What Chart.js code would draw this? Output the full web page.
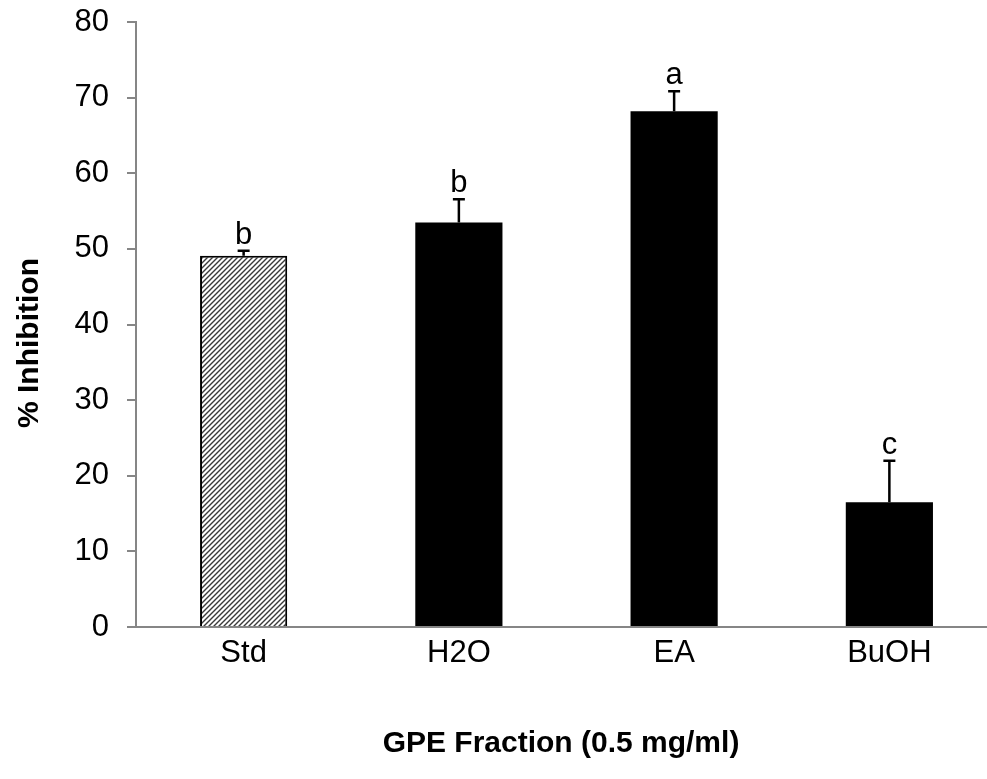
<!DOCTYPE html>
<html>
<head>
<meta charset="utf-8">
<script src="https://cdn.jsdelivr.net/npm/chart.js@4/dist/chart.umd.min.js"></script>
<style>
    html, body { margin: 0; padding: 0; background: #fff; overflow: hidden; }
    #wrap { width: 1000px; height: 779px; }
</style>
</head>
<body>
<div id="wrap"><canvas id="inhibitionChart" width="1000" height="779"></canvas></div>
<script>
const categories = ['Std', 'H2O', 'EA', 'BuOH'];
const inhibition = [49.1, 53.5, 68.2, 16.5];
const errors = [0.65, 3.05, 2.65, 5.5];
const letters = ['b', 'b', 'a', 'c'];
const yMin = 0;
const yMax = 80;
const yStep = 10;

const axisColor = '#868686';
const fontFamily = '"Liberation Sans", Arial, sans-serif';

function makeHatch() {
    const tile = document.createElement('canvas');
    tile.width = 5;
    tile.height = 5;
    const c = tile.getContext('2d');
    c.fillStyle = '#fff';
    c.fillRect(0, 0, 5, 5);
    c.strokeStyle = '#3a3a3a';
    c.lineWidth = 1.4;
    c.beginPath();
    c.moveTo(-1, 6); c.lineTo(6, -1);
    c.moveTo(-1, 1); c.lineTo(1, -1);
    c.moveTo(4, 6); c.lineTo(6, 4);
    c.stroke();
    return document.getElementById('inhibitionChart').getContext('2d').createPattern(tile, 'repeat');
}

// error bars (upper only) + significance letters, plus both axis titles
const extrasPlugin = {
    id: 'extras',
    afterDatasetsDraw(chart) {
        const ctx = chart.ctx;
        const y = chart.scales.y;
        const meta = chart.getDatasetMeta(0);
        ctx.save();
        ctx.strokeStyle = '#000';
        ctx.fillStyle = '#000';
        ctx.lineWidth = 2.5;
        ctx.font = '31px ' + fontFamily;
        ctx.textAlign = 'center';
        ctx.textBaseline = 'alphabetic';
        meta.data.forEach((bar, i) => {
            const top = y.getPixelForValue(inhibition[i]);
            const capY = y.getPixelForValue(inhibition[i] + errors[i]);
            ctx.beginPath();
            ctx.moveTo(bar.x, top);
            ctx.lineTo(bar.x, capY);
            ctx.moveTo(bar.x - 6, capY);
            ctx.lineTo(bar.x + 6, capY);
            ctx.stroke();
            ctx.fillText(letters[i], bar.x, capY - 7);
        });
        ctx.restore();
    },
    afterDraw(chart) {
        const ctx = chart.ctx;
        ctx.save();
        ctx.fillStyle = '#000';
        ctx.font = 'bold 30px ' + fontFamily;
        ctx.textAlign = 'center';
        ctx.textBaseline = 'middle';
        ctx.fillText('GPE Fraction (0.5 mg/ml)', 561, 744);
        ctx.translate(30, 343);
        ctx.rotate(-Math.PI / 2);
        ctx.fillText('% Inhibition', 0, 0);
        ctx.restore();
    }
};

const ctx = document.getElementById('inhibitionChart').getContext('2d');
new Chart(ctx, {
    type: 'bar',
    data: {
        labels: categories,
        datasets: [{
            data: inhibition,
            backgroundColor: [makeHatch(), '#000', '#000', '#000'],
            borderColor: '#000',
            borderWidth: [2, 0, 0, 0],
            barPercentage: 0.405,
            categoryPercentage: 1
        }]
    },
    options: {
        responsive: false,
        animation: false,
        layout: { padding: { left: 0, top: 22, right: 3, bottom: 0 } },
        plugins: {
            legend: { display: false },
            tooltip: { enabled: false }
        },
        scales: {
            x: {
                z: 1,
                grid: { display: false, drawTicks: false },
                border: { display: true, color: axisColor, width: 2 },
                ticks: {
                    color: '#000',
                    padding: 8,
                    font: { family: fontFamily, size: 31 }
                },
                afterFit(scale) {
                    scale.height = 152;
                    scale.paddingLeft = 0;
                    scale.paddingRight = 0;
                }
            },
            y: {
                min: yMin,
                max: yMax,
                grid: {
                    drawOnChartArea: false,
                    drawTicks: true,
                    tickLength: 9,
                    color: axisColor,
                    lineWidth: 2
                },
                border: { display: true, color: axisColor, width: 2 },
                ticks: {
                    stepSize: yStep,
                    color: '#000',
                    padding: 18,
                    font: { family: fontFamily, size: 31 }
                },
                afterFit(scale) {
                    scale.width = 136;
                    scale.paddingTop = 0;
                    scale.paddingBottom = 0;
                }
            }
        }
    },
    plugins: [extrasPlugin]
});
</script>
</body>
</html>
